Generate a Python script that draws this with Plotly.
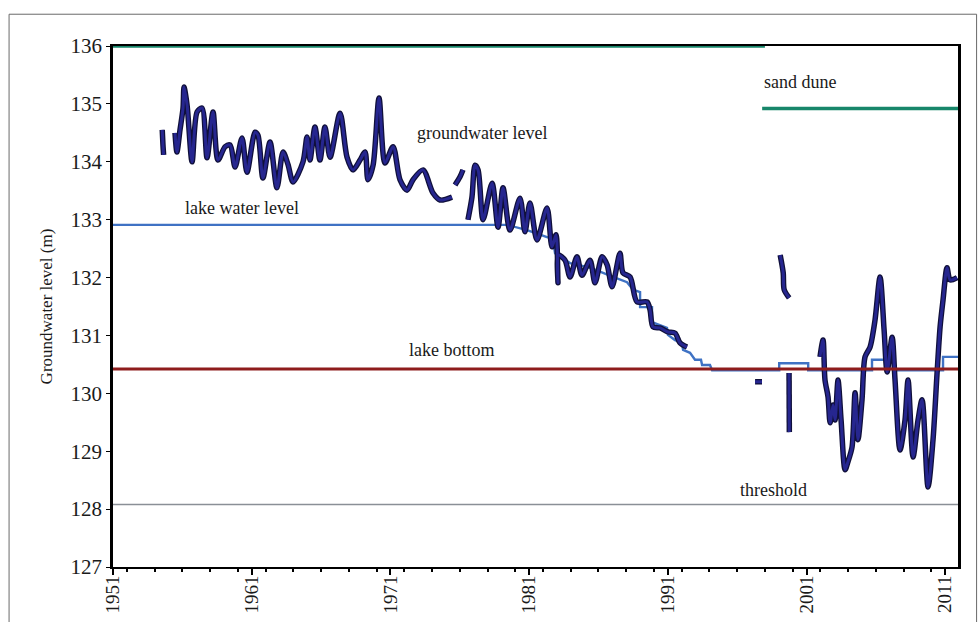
import plotly.graph_objects as go

# Groundwater level (m) – observation segments, None = gap in the record
gw_years = [
    1954.55, 1954.60, 1954.65, None,
    1955.47, 1955.61, 1955.83, 1956.05, 1956.12, 1956.34, 1956.70, 1957.06, 1957.42,
    1957.78, 1958.21, 1958.57, 1959.08, 1959.44, 1959.80, 1960.30, 1960.66, 1961.24,
    1961.45, 1961.81, 1962.32, 1962.82, 1963.26, 1963.62, 1963.98, 1964.70, 1964.99,
    1965.20, 1965.56, 1965.92, 1966.28, 1966.65, 1967.37, 1967.87, 1968.30, 1968.81,
    1969.17, 1969.38, 1969.75, 1970.18, 1970.61, 1971.19, 1971.69, 1972.20, 1972.63,
    1973.35, 1974.07, 1974.58, 1975.44, None,
    1975.66, 1976.02, 1976.23, None,
    1976.59, 1976.88, 1977.10, 1977.32, 1977.68, 1978.33, 1978.76, 1979.12, 1979.62,
    1980.34, 1980.70, 1981.06, 1981.57, 1982.29, 1982.65, 1982.94, 1983.08, 1983.10,
    1983.59, 1983.95, 1984.45, 1984.81, 1985.39, 1985.75, 1986.26, 1986.62, 1986.98,
    1987.55, 1987.77, 1988.28, 1988.78, 1989.50, 1989.72, 1989.93, 1990.44, 1991.01,
    1991.52, 1991.88, 1992.38, None,
    1997.29, 1997.79, None,
    1999.10, 1999.32, 1999.39, 1999.75, None,
    1999.74, 1999.76, None,
    2001.97, 2002.19, 2002.33, 2002.55, 2002.70, 2002.91, 2003.06, 2003.27, 2003.49,
    2003.78, 2003.99, 2004.28, 2004.50, 2004.71, 2005.00, 2005.22, 2005.58, 2005.94,
    2006.30, 2006.59, 2006.81, 2007.17, 2007.38, 2007.74, 2008.10, 2008.32, 2008.68,
    2009.04, 2009.33, 2009.76, 2010.12, 2010.41, 2010.63, 2010.84, 2011.13, 2011.35,
    2011.85,
]
gw_levels = [
    134.55, 134.30, 134.12, None,
    134.50, 134.17, 134.55, 134.93, 135.29, 134.98, 134.00, 134.86, 134.93,
    134.07, 134.86, 134.03, 134.26, 134.29, 133.91, 134.41, 133.82, 134.51,
    134.46, 133.72, 134.34, 133.55, 134.17, 133.95, 133.65, 134.00, 134.43,
    134.03, 134.60, 134.03, 134.60, 134.08, 134.84, 134.08, 133.86, 134.03,
    134.17, 133.69, 133.94, 135.10, 133.98, 134.26, 133.69, 133.51, 133.69,
    133.86, 133.46, 133.34, 133.39, None,
    133.60, 133.74, 133.86, None,
    133.00, 133.39, 133.94, 133.86, 133.00, 133.63, 132.87, 133.55, 132.82,
    133.37, 132.79, 133.29, 132.65, 133.20, 132.53, 132.74, 131.91, 132.39,
    132.30, 132.01, 132.36, 132.04, 132.30, 131.91, 132.36, 132.22, 131.84,
    132.42, 132.08, 132.01, 131.58, 131.58, 131.44, 131.15, 131.13, 131.06,
    131.04, 130.87, 130.80, None,
    130.20, 130.20, None,
    132.39, 132.08, 131.79, 131.65, None,
    130.35, 129.33, None,
    130.63, 130.92, 130.23, 129.94, 129.49, 129.80, 129.54, 130.23, 129.54,
    128.68, 128.82, 129.07, 130.01, 129.20, 129.89, 130.63, 130.80, 131.27,
    132.01, 131.10, 130.37, 130.97, 130.23, 129.02, 129.54, 130.23, 128.90,
    129.54, 129.89, 128.38, 129.20, 130.35, 131.15, 131.61, 132.17, 131.96,
    132.00,
]

# Lake water level (m)
lake_years = [
    1951.0, 1979.41, 1980.85, 1982.29, 1982.72, 1982.87, 1983.95, 1985.39, 1987.05,
    1988.06, 1988.49, 1989.00, 1989.00, 1989.86, 1989.86, 1990.94, 1991.01, 1991.52,
    1992.02, 1992.10, 1992.60, 1992.96, 1993.39, 1993.47, 1994.04, 1994.19, 1999.03,
    1999.03, 2001.12, 2001.12, 2005.72, 2005.72, 2007.24, 2007.24, 2010.84, 2010.84,
    2011.92,
]
lake_levels = [
    132.91, 132.91, 132.82, 132.70, 132.65, 132.42, 132.25, 132.17, 132.01,
    131.92, 131.79, 131.75, 131.49, 131.49, 131.23, 131.13, 131.01, 130.92,
    130.87, 130.75, 130.70, 130.58, 130.58, 130.49, 130.49, 130.40, 130.40,
    130.52, 130.52, 130.40, 130.40, 130.58, 130.58, 130.40, 130.40, 130.63,
    130.63,
]

# Reference levels (m)
dune_years = [1951.0, 1998.0, None, 1997.8, 2011.92]
dune_levels = [136.0, 136.0, None, 134.92, 134.92]
bottom_years = [1951.0, 2011.92]
bottom_levels = [130.42, 130.42]
threshold_years = [1951.0, 2011.92]
threshold_levels = [128.08, 128.08]

# Labels placed on the chart
label_texts = ["groundwater level", "lake water level", "lake bottom", "threshold", "sand dune"]
label_years = [1977.6, 1960.3, 1975.4, 1998.6, 2000.5]
label_levels = [134.50, 133.20, 130.75, 128.33, 135.38]

SERIF = "Liberation Serif"

fig = go.Figure()
fig.add_trace(go.Scatter(x=threshold_years, y=threshold_levels, mode="lines",
                         line=dict(color="#8a8f96", width=1.6), hoverinfo="skip"))
fig.add_trace(go.Scatter(x=dune_years, y=dune_levels, mode="lines",
                         line=dict(color="#17866a", width=3.4), hoverinfo="skip"))
fig.add_trace(go.Scatter(x=lake_years, y=lake_levels, mode="lines",
                         line=dict(color="#3f72c4", width=2.4), hoverinfo="skip"))
# dark outline under the groundwater curve
fig.add_trace(go.Scatter(x=gw_years, y=gw_levels, mode="lines",
                         line=dict(color="#10103a", width=5.5, shape="spline", smoothing=0.8),
                         hoverinfo="skip"))
fig.add_trace(go.Scatter(x=gw_years, y=gw_levels, mode="lines",
                         line=dict(color="#26268f", width=3, shape="spline", smoothing=0.8),
                         hoverinfo="skip"))
fig.add_trace(go.Scatter(x=bottom_years, y=bottom_levels, mode="lines",
                         line=dict(color="#8e1c1c", width=3), hoverinfo="skip"))

for txt, xv, yv in zip(label_texts, label_years, label_levels):
    fig.add_annotation(x=xv, y=yv, text=txt, showarrow=False,
                       font=dict(family=SERIF, size=18, color="#1a1a1a"))

# outer frame of the figure
fig.add_shape(type="rect", xref="paper", yref="paper",
              x0=-0.123, x1=1.022, y0=-0.25, y1=1.061,
              line=dict(color="#6a6a6a", width=1), layer="below")

fig.update_layout(
    width=979,
    height=622,
    margin=dict(l=113, r=21, t=46, b=55),
    paper_bgcolor="white",
    plot_bgcolor="white",
    showlegend=False,
    font=dict(family=SERIF, size=18, color="#1a1a1a"),
    xaxis=dict(
        range=[1951, 2011.92],
        tick0=1951, dtick=10,
        ticks="outside", ticklen=6, tickcolor="black", tickwidth=1.5,
        tickangle=-90,
        ticklabelstandoff=-7,
        minor=dict(dtick=2, ticks="outside", ticklen=3, tickcolor="black"),
        showgrid=False, zeroline=False,
        showline=True, linecolor="black", linewidth=2, mirror=True,
        tickfont=dict(family=SERIF, size=19),
        automargin=False,
    ),
    yaxis=dict(
        range=[127, 136],
        tick0=127, dtick=1,
        ticks="outside", ticklen=4, tickcolor="black",
        showgrid=False, zeroline=False,
        showline=True, linecolor="black", linewidth=2.5, mirror=True,
        tickfont=dict(family=SERIF, size=21),
        title=dict(text="Groundwater level (m)", font=dict(family=SERIF, size=17),
                   standoff=14),
        automargin=False,
    ),
)

fig.write_html(
    "out.html",
    config={"displayModeBar": False},
    post_script="document.body.style.margin='0';document.body.style.overflow='hidden';",
)
